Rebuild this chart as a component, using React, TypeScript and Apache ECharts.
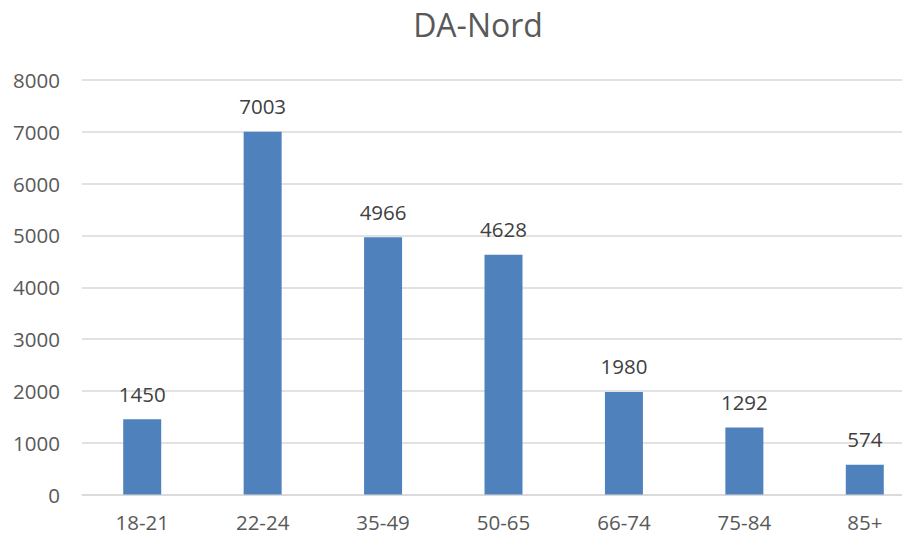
import React, { useEffect, useRef } from "react";
import * as echarts from "echarts";

const categories = ["18-21", "22-24", "35-49", "50-65", "66-74", "75-84", "85+"];
const values = [1450, 7003, 4966, 4628, 1980, 1292, 574];
const titleText = "DA-Nord";

export default function App() {
  const ref = useRef<HTMLDivElement>(null);
  useEffect(() => {
    if (!ref.current) return;
    const chart = echarts.init(ref.current, null, { renderer: "svg" });
    chart.setOption({
      animation: false,
      backgroundColor: "#ffffff",
      title: {
        text: titleText,
        left: 473,
        top: 3,
        textAlign: "center",
        textStyle: { fontFamily: "Open Sans", fontSize: 32, fontWeight: "normal", color: "#595959" },
      },
      grid: { left: 82, top: 80, width: 843, height: 414.5, containLabel: false },
      xAxis: {
        type: "category",
        data: categories,
        axisTick: { show: false },
        axisLine: { show: true, lineStyle: { color: "#D9D9D9", width: 1.5 } },
        axisLabel: { color: "#595959", fontFamily: "Open Sans", fontSize: 20.5, margin: 17 },
      },
      yAxis: {
        type: "value",
        min: 0,
        max: 8000,
        interval: 1000,
        axisLine: { show: false },
        axisTick: { show: false },
        splitLine: { lineStyle: { color: "#D9D9D9", width: 1.5 } },
        axisLabel: {
          color: "#595959",
          fontFamily: "Open Sans",
          fontSize: 20.5,
          margin: 22,
          formatter: (v: number) => String(v),
        },
      },
      series: [
        {
          type: "bar",
          data: values,
          barWidth: 38,
          itemStyle: { color: "#4F81BD" },
          label: {
            show: true,
            position: "top",
            distance: 15,
            color: "#404040",
            fontFamily: "Open Sans",
            fontSize: 20.5,
          },
        },
      ],
    });
    return () => chart.dispose();
  }, []);
  return (
    <div style={{ width: 910, height: 538, margin: -8, overflow: "hidden", position: "relative" }}>
      <div ref={ref} style={{ width: 940, height: 538 }} />
    </div>
  );
}
